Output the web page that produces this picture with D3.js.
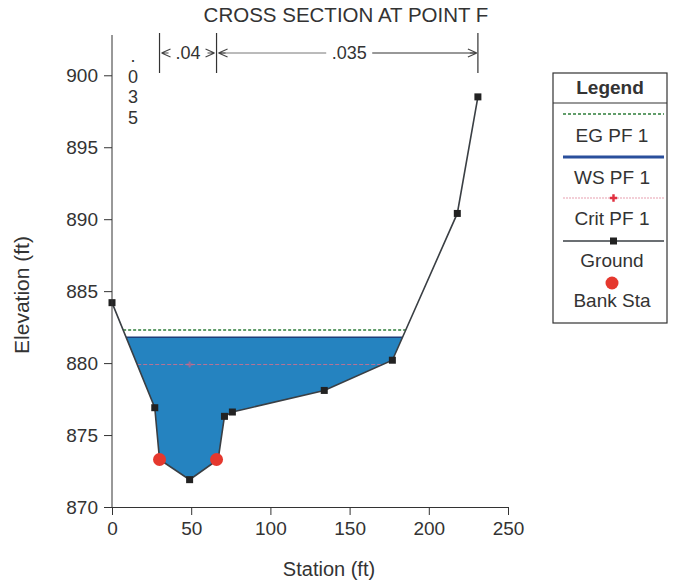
<!DOCTYPE html>
<html>
    <head>
        <meta charset="utf-8" />
        <title>Cross Section at Point F</title>
        <script src="https://d3js.org/d3.v7.min.js"></script>
        <style>
            body {
                margin: 0;
                background: #fff;
            }
            * {
                font-family: 'Liberation Sans', Arial, sans-serif;
            }
            .axis path,
            .axis line {
                stroke: #333;
            }
            .axis text {
                font-size: 19px;
                fill: #333;
            }
        </style>
    </head>
    <body>
        <div id="chart"></div>
        <script>
            // ground profile
            const station = [0, 27, 30, 49, 67, 71, 76, 134, 177, 218, 231];
            const elevation = [884.2, 876.9, 873.3, 871.9, 873.3, 876.3, 876.6, 878.1, 880.2, 890.4, 898.5];
            const bankStations = [30, 66];
            const bankElev = [873.3, 873.3];
            const nValues = ['.035', '.04', '.035'];
            const wsElev = 881.8;
            const egElev = 882.3;
            const critElev = 879.9;
            const critMarkStation = 49;
            const xTicks = [0, 50, 100, 150, 200, 250];
            const yTicks = [870, 875, 880, 885, 890, 895, 900];
            const legendItems = ['EG PF 1', 'WS PF 1', 'Crit PF 1', 'Ground', 'Bank Sta'];

            const W = 674, H = 585;
            const svg = d3.select('#chart').append('svg').attr('width', W).attr('height', H);

            const x = d3.scaleLinear().domain([0, 250]).range([112, 508]);
            const y = d3.scaleLinear().domain([870, 902.8]).range([507, 35]);

            const ground = station.map((s, i) => ({ s: s, e: elevation[i] }));

            // where the ground crosses a level, searching from the bottom outwards
            function crossings(level) {
                let low = d3.minIndex(ground, (d) => d.e);
                let i = low;
                while (i > 0 && ground[i - 1].e < level) i--;
                let j = low;
                while (j < ground.length - 1 && ground[j + 1].e < level) j++;
                const interp = (a, b) => a.s + ((level - a.e) / (b.e - a.e)) * (b.s - a.s);
                return { i: i, j: j, left: interp(ground[i - 1], ground[i]), right: interp(ground[j], ground[j + 1]) };
            }

            // water fill
            const w = crossings(wsElev);
            const water = [{ s: w.left, e: wsElev }].concat(ground.slice(w.i, w.j + 1), [{ s: w.right, e: wsElev }]);
            svg.append('path')
                .datum(water)
                .attr('d', d3.line().x((d) => x(d.s)).y((d) => y(d.e)))
                .attr('fill', '#2583c0')
                .attr('stroke', 'none');

            // EG
            const eg = crossings(egElev);
            svg.append('line')
                .attr('x1', x(eg.left)).attr('x2', x(eg.right))
                .attr('y1', y(egElev)).attr('y2', y(egElev))
                .attr('stroke', '#2e7d3a').attr('stroke-width', 1.5).attr('stroke-dasharray', '3,2');

            // WS
            svg.append('line')
                .attr('x1', x(w.left)).attr('x2', x(w.right))
                .attr('y1', y(wsElev)).attr('y2', y(wsElev))
                .attr('stroke', '#1d3f7a').attr('stroke-width', 1.5);

            // Crit
            const cr = crossings(critElev);
            svg.append('line')
                .attr('x1', x(cr.left)).attr('x2', x(cr.right))
                .attr('y1', y(critElev)).attr('y2', y(critElev))
                .attr('stroke', '#e0708a').attr('stroke-width', 1).attr('stroke-dasharray', '4,2').attr('opacity', 0.8);
            svg.append('path')
                .attr('d', d3.symbol(d3.symbolCross, 20)())
                .attr('transform', `translate(${x(critMarkStation)},${y(critElev)})`)
                .attr('fill', '#e06080').attr('opacity', 0.6);

            // ground
            svg.append('path')
                .datum(ground)
                .attr('d', d3.line().x((d) => x(d.s)).y((d) => y(d.e)))
                .attr('fill', 'none')
                .attr('stroke', '#3a3f44')
                .attr('stroke-width', 1.6);
            svg.selectAll('.gpt')
                .data(ground)
                .join('rect')
                .attr('class', 'gpt')
                .attr('x', (d) => x(d.s) - 3.5)
                .attr('y', (d) => y(d.e) - 3.5)
                .attr('width', 7)
                .attr('height', 7)
                .attr('fill', '#222');

            // bank stations
            svg.selectAll('.bank')
                .data(bankStations)
                .join('circle')
                .attr('class', 'bank')
                .attr('cx', (d) => x(d))
                .attr('cy', (d, i) => y(bankElev[i]))
                .attr('r', 6.5)
                .attr('fill', '#e5382e');

            // axes
            const xAxis = svg.append('g').attr('class', 'axis').attr('transform', `translate(0,${y(870)})`);
            xAxis.call(d3.axisBottom(x).tickValues(d3.range(0, 251, 10)).tickSize(5).tickFormat(''));
            xAxis.call(d3.axisBottom(x).tickValues(xTicks).tickSize(8).tickFormat(d3.format('d')));
            xAxis.selectAll('text').attr('dy', '0.9em');

            const yAxis = svg.append('g').attr('class', 'axis').attr('transform', `translate(${x(0)},0)`);
            yAxis.call(d3.axisLeft(y).tickValues(d3.range(870, 903, 1)).tickSize(4).tickFormat(''));
            yAxis.call(d3.axisLeft(y).tickValues(yTicks).tickSize(8).tickPadding(6).tickSizeOuter(0).tickFormat(d3.format('d')));
            yAxis.selectAll('path.domain').attr('d', `M0,${y(870)}V${y(902.8)}`);

            // title and axis labels
            svg.append('text')
                .attr('x', 346).attr('y', 22)
                .attr('text-anchor', 'middle')
                .attr('font-size', 20.5).attr('fill', '#333')
                .text('CROSS SECTION AT POINT F');
            svg.append('text')
                .attr('x', 329).attr('y', 576)
                .attr('text-anchor', 'middle')
                .attr('font-size', 20).attr('fill', '#333')
                .text('Station (ft)');
            svg.append('text')
                .attr('transform', `translate(29,295) rotate(-90)`)
                .attr('text-anchor', 'middle')
                .attr('font-size', 21).attr('fill', '#333')
                .text('Elevation (ft)');

            // n-value brackets
            const nEdges = [bankStations[0], bankStations[1], station[station.length - 1]];
            const nTop = 33, nMid = 53, nBot = 73;
            svg.selectAll('.nedge')
                .data(nEdges)
                .join('line')
                .attr('class', 'nedge')
                .attr('x1', (d) => x(d)).attr('x2', (d) => x(d))
                .attr('y1', nTop).attr('y2', nBot)
                .attr('stroke', '#333').attr('stroke-width', 1.2);

            // left overbank value, too narrow to write flat
            svg.append('text')
                .attr('x', 133).attr('y', 62)
                .attr('text-anchor', 'middle')
                .attr('font-size', 18).attr('fill', '#333')
                .selectAll('tspan')
                .data(nValues[0].split(''))
                .join('tspan')
                .attr('x', 133)
                .attr('dy', (d, i) => [0, 21, 20, 21][i])
                .text((d) => d);

            // small arrow heads: tip at (px, nMid), pointing dir (-1 left, 1 right)
            function arrowHead(px, dir) {
                svg.append('path')
                    .attr('d', `M${px},${nMid}l${-dir * 9},-4M${px},${nMid}l${-dir * 9},4M${px},${nMid}h${-dir * 7}`)
                    .attr('stroke', '#444').attr('fill', 'none').attr('stroke-width', 1.1);
            }

            // channel .04
            const cl = x(bankStations[0]), cRight = x(bankStations[1]);
            arrowHead(cl + 2, -1);
            arrowHead(cRight - 2, 1);
            svg.append('text')
                .attr('x', (cl + cRight) / 2).attr('y', nMid + 6)
                .attr('text-anchor', 'middle')
                .attr('font-size', 18).attr('fill', '#333')
                .text(nValues[1]);

            // right overbank .035 with arrows
            const rl = x(bankStations[1]), rr = x(station[station.length - 1]);
            const rc = (rl + rr) / 2 + 2;
            svg.append('text')
                .attr('x', rc).attr('y', nMid + 6)
                .attr('text-anchor', 'middle')
                .attr('font-size', 18).attr('fill', '#333')
                .text(nValues[2]);
            svg.append('line').attr('x1', rl + 2).attr('x2', rc - 23).attr('y1', nMid).attr('y2', nMid).attr('stroke', '#777');
            svg.append('line').attr('x1', rc + 23).attr('x2', rr - 2).attr('y1', nMid).attr('y2', nMid).attr('stroke', '#333').attr('stroke-width', 1.1);
            arrowHead(rl + 2, -1);
            arrowHead(rr - 1, 1);

            // legend
            const lg = svg.append('g').attr('transform', 'translate(553,73)');
            const lw = 114, lh = 250;
            lg.append('rect').attr('width', lw).attr('height', lh).attr('fill', '#fff').attr('stroke', '#333').attr('stroke-width', 1.2);
            lg.append('line').attr('x1', 0).attr('x2', lw).attr('y1', 30).attr('y2', 30).attr('stroke', '#333').attr('stroke-width', 1.2);
            lg.append('text')
                .attr('x', lw / 2).attr('y', 21)
                .attr('text-anchor', 'middle').attr('font-size', 19).attr('font-weight', 'bold').attr('fill', '#333')
                .text('Legend');
            const rowY = [41, 84, 125, 168, 210];
            const textOff = [28, 27, 27, 26, 24];
            const item = lg.selectAll('.li').data(legendItems).join('g').attr('class', 'li')
                .attr('transform', (d, i) => `translate(0,${rowY[i]})`);
            item.append('text')
                .attr('x', lw / 2 + 2).attr('y', (d, i) => textOff[i])
                .attr('text-anchor', 'middle').attr('font-size', 19).attr('fill', '#333')
                .text((d) => d);
            const lx1 = 10, lx2 = 111;
            lg.append('line').attr('x1', lx1).attr('x2', lx2).attr('y1', rowY[0]).attr('y2', rowY[0])
                .attr('stroke', '#2e7d3a').attr('stroke-width', 1.5).attr('stroke-dasharray', '3,2');
            lg.append('line').attr('x1', lx1).attr('x2', lx2).attr('y1', rowY[1]).attr('y2', rowY[1])
                .attr('stroke', '#2a4f9c').attr('stroke-width', 3);
            lg.append('line').attr('x1', lx1).attr('x2', lx2).attr('y1', rowY[2]).attr('y2', rowY[2])
                .attr('stroke', '#e8a0b0').attr('stroke-width', 1.2).attr('stroke-dasharray', '2,1');
            lg.append('path').attr('d', d3.symbol(d3.symbolCross, 30)())
                .attr('transform', `translate(${(lx1 + lx2) / 2},${rowY[2]})`).attr('fill', '#e03040');
            lg.append('line').attr('x1', lx1).attr('x2', lx2).attr('y1', rowY[3]).attr('y2', rowY[3])
                .attr('stroke', '#3a3f44').attr('stroke-width', 1.5);
            lg.append('rect').attr('x', (lx1 + lx2) / 2 - 3.5).attr('y', rowY[3] - 3.5).attr('width', 7).attr('height', 7).attr('fill', '#222');
            lg.append('circle').attr('cx', lw / 2 + 2).attr('cy', rowY[4]).attr('r', 6.5).attr('fill', '#e5382e');
        </script>
    </body>
</html>
